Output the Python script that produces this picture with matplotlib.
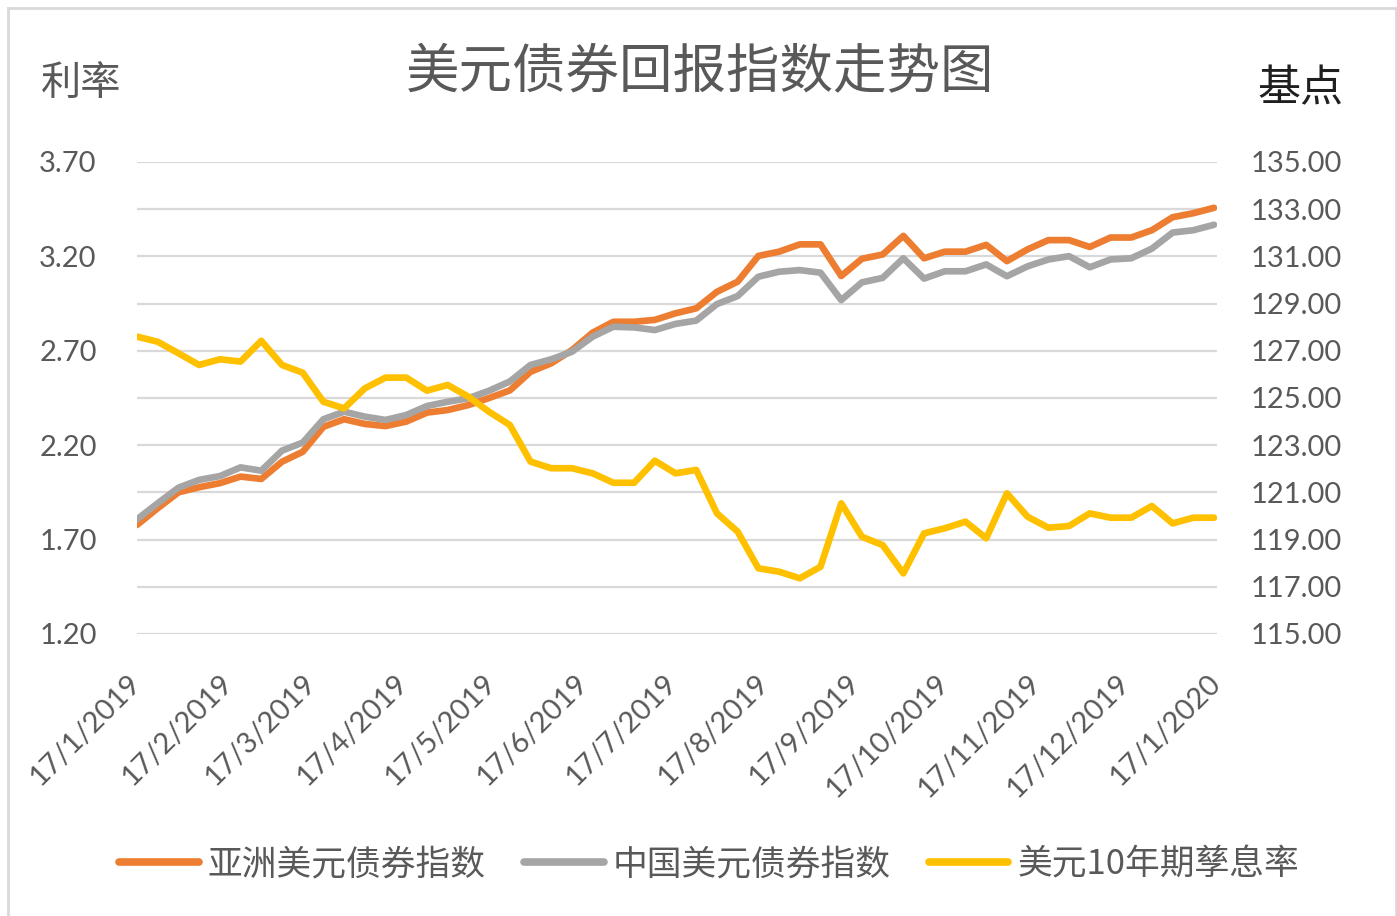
import numpy as np
import pandas as pd
import matplotlib
matplotlib.use('Agg')
import matplotlib.pyplot as plt
from matplotlib.lines import Line2D

plt.rcParams['font.family'] = ['Lato', 'Noto Sans CJK SC', 'DejaVu Sans']

dates = pd.date_range('2019-01-17', periods=53, freq='7D')

asia_index = [119.62, 120.33, 121.00, 121.22, 121.39, 121.67, 121.57, 122.30, 122.72, 123.78,
              124.10, 123.90, 123.81, 124.00, 124.38, 124.49, 124.70, 125.00, 125.32, 126.11,
              126.47, 127.03, 127.77, 128.23, 128.23, 128.31, 128.59, 128.80, 129.50, 129.93,
              131.02, 131.20, 131.51, 131.51, 130.17, 130.90, 131.08, 131.87, 130.92, 131.20,
              131.20, 131.49, 130.80, 131.30, 131.69, 131.69, 131.40, 131.80, 131.80, 132.11,
              132.66, 132.83, 133.06]

china_index = [119.86, 120.54, 121.20, 121.53, 121.69, 122.06, 121.92, 122.77, 123.11, 124.10,
               124.42, 124.21, 124.07, 124.28, 124.66, 124.84, 124.99, 125.31, 125.70, 126.40,
               126.64, 126.96, 127.60, 128.02, 127.99, 127.88, 128.14, 128.28, 128.98, 129.32,
               130.14, 130.35, 130.42, 130.31, 129.15, 129.90, 130.09, 130.92, 130.06, 130.37,
               130.37, 130.66, 130.16, 130.58, 130.87, 131.01, 130.54, 130.87, 130.92, 131.33,
               132.01, 132.11, 132.34]

us10y = [2.775, 2.748, 2.687, 2.625, 2.655, 2.643, 2.753, 2.625, 2.584, 2.430,
         2.395, 2.501, 2.558, 2.558, 2.489, 2.519, 2.457, 2.377, 2.307, 2.113,
         2.078, 2.078, 2.051, 2.001, 2.001, 2.118, 2.051, 2.069, 1.839, 1.742,
         1.548, 1.530, 1.495, 1.556, 1.892, 1.715, 1.671, 1.521, 1.733, 1.760,
         1.795, 1.707, 1.945, 1.821, 1.763, 1.772, 1.839, 1.816, 1.816, 1.878,
         1.786, 1.816, 1.816]

month_ticks = pd.date_range('2019-01-01', periods=13, freq='MS') + pd.Timedelta(days=16)
month_labels = [f'{d.day}/{d.month}/{d.year}' for d in month_ticks]
rate_ticks = [1.20, 1.70, 2.20, 2.70, 3.20, 3.70]
index_ticks = list(range(115, 136, 2))

names = ['亚洲美元债券指数', '中国美元债券指数', '美元10年期孳息率']
colors = ['#ED7D31', '#A5A5A5', '#FFC000']

TEXT = '#595959'
CJK = ['Noto Sans CJK SC', 'DejaVu Sans']


def main():
    fig = plt.figure(figsize=(13.97, 9.16), dpi=100)
    ax = fig.add_axes([137 / 1397, 1 - 634 / 916, 1080 / 1397, 472 / 916])
    ax2 = ax.twinx()

    lw = 4.8
    kw = dict(solid_joinstyle='round', solid_capstyle='round')
    ax2.plot(dates, asia_index, color=colors[0], lw=lw, **kw)
    ax2.plot(dates, china_index, color=colors[1], lw=lw, **kw)
    ax.plot(dates, us10y, color=colors[2], lw=lw, **kw)

    ax.set_zorder(ax2.get_zorder() + 1)
    ax.patch.set_visible(False)

    ax.set_xlim(month_ticks[0], month_ticks[-1])
    ax.set_ylim(1.20, 3.70)
    ax2.set_ylim(115, 135)

    ax.set_yticks(rate_ticks)
    ax.set_yticklabels([f'{v:.2f}' for v in rate_ticks])
    ax2.set_yticks(index_ticks)
    ax2.set_yticklabels([f'{v:.2f}' for v in index_ticks])
    ax2.yaxis.grid(True, color='#d9d9d9', lw=1.6)
    ax2.set_axisbelow(True)

    ax.set_xticks(month_ticks)
    ax.set_xticklabels(month_labels, rotation=45, ha='right', va='center',
                       rotation_mode='anchor')

    for a in (ax, ax2):
        for s in a.spines.values():
            s.set_visible(False)
        a.tick_params(length=0, labelsize=21, labelcolor=TEXT)
    ax.tick_params(axis='y', pad=29)
    ax2.tick_params(axis='y', pad=24)
    ax.tick_params(axis='x', pad=32)

    fig.text(700 / 1397, 1 - 73 / 916, '美元债券回报指数走势图', ha='center', va='center',
             fontsize=38.5, color=TEXT, family=CJK)
    fig.text(81 / 1397, 1 - 83 / 916, '利率', ha='center', va='center',
             fontsize=29, color=TEXT, family=CJK)
    fig.text(1300 / 1397, 1 - 89 / 916, '基点', ha='center', va='center',
             fontsize=31, color='#1f1f1f', family=CJK)

    handles = [Line2D([], [], color=c, lw=5.5, solid_capstyle='round') for c in colors]
    fig.legend(handles, names, loc='center', bbox_to_anchor=(709 / 1397, 1 - 865 / 916),
               ncol=3, frameon=False, prop={'family': CJK, 'size': 25},
               labelcolor=TEXT, handlelength=2.3, handletextpad=0.25,
               columnspacing=1.1)

    border = dict(color='#d9d9d9', lw=2, transform=fig.transFigure)
    fig.add_artist(Line2D([7.5 / 1397, 7.5 / 1397], [0, 1 - 7.5 / 916], **border))
    fig.add_artist(Line2D([7.5 / 1397, 1395.5 / 1397], [1 - 7.5 / 916, 1 - 7.5 / 916], **border))
    fig.add_artist(Line2D([1395.5 / 1397, 1395.5 / 1397], [0, 1 - 7.5 / 916], **border))

    fig.savefig('out.png', dpi=100, facecolor='white')


if __name__ == '__main__':
    main()
